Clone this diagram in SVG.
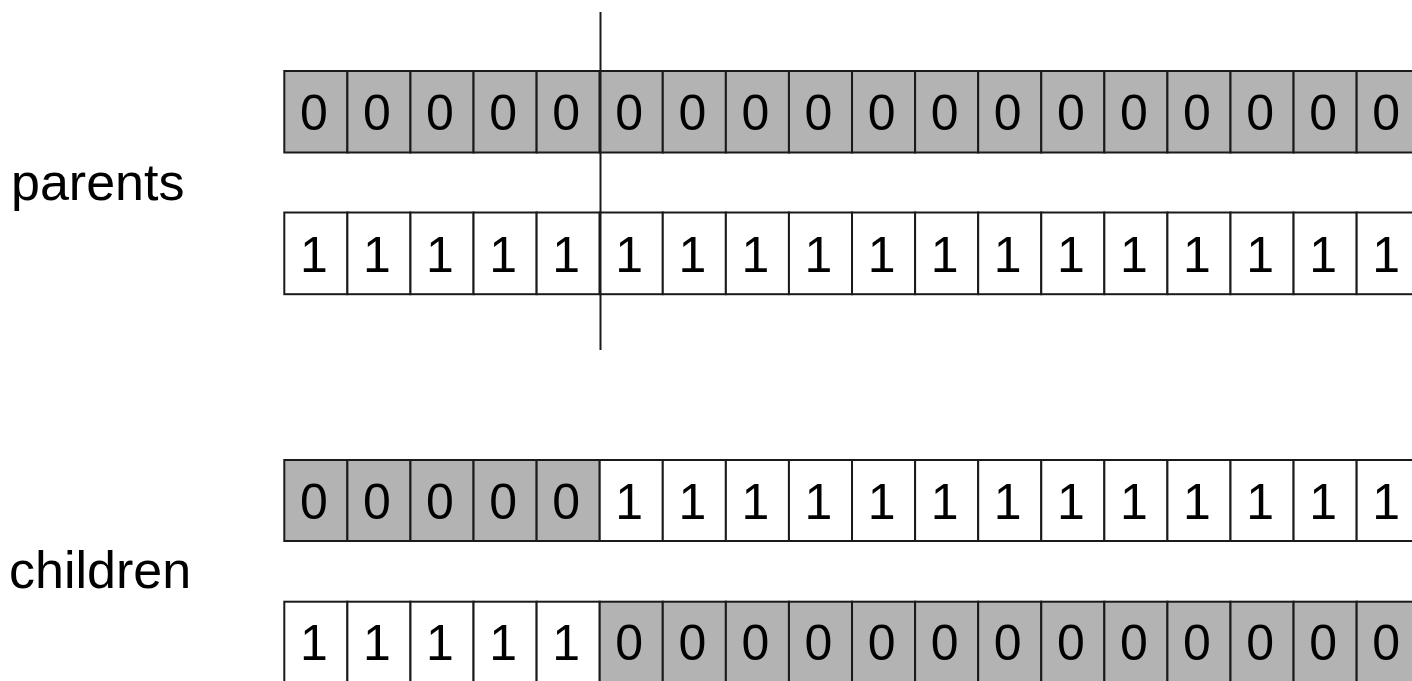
<svg xmlns="http://www.w3.org/2000/svg" width="1412" height="681" viewBox="0 0 1412 681">
<style>
.g{fill:#b3b3b3;stroke:#1a1a1a;stroke-width:2}
.w{fill:#ffffff;stroke:#1a1a1a;stroke-width:2}
.d{font-family:"Liberation Sans",Arial,sans-serif;font-size:50px;fill:#000;text-anchor:middle}
.lbl{font-family:"Liberation Sans",Arial,sans-serif;font-size:52px;fill:#000}
</style>
<rect width="1412" height="681" fill="#fff"/>
<g id="label-parents"><text class="lbl" x="11" y="200">parents</text></g>
<g id="label-children"><text class="lbl" x="9" y="588">children</text></g>
<g id="parent1" transform="translate(0,71)">
<rect class="g" x="284.3" y="0" width="63.08" height="81.5"/><rect class="g" x="347.38" y="0" width="63.08" height="81.5"/><rect class="g" x="410.46" y="0" width="63.08" height="81.5"/><rect class="g" x="473.54" y="0" width="63.08" height="81.5"/><rect class="g" x="536.62" y="0" width="63.08" height="81.5"/><rect class="g" x="599.7" y="0" width="63.08" height="81.5"/><rect class="g" x="662.78" y="0" width="63.08" height="81.5"/><rect class="g" x="725.86" y="0" width="63.08" height="81.5"/><rect class="g" x="788.94" y="0" width="63.08" height="81.5"/><rect class="g" x="852.02" y="0" width="63.08" height="81.5"/><rect class="g" x="915.1" y="0" width="63.08" height="81.5"/><rect class="g" x="978.18" y="0" width="63.08" height="81.5"/><rect class="g" x="1041.26" y="0" width="63.08" height="81.5"/><rect class="g" x="1104.34" y="0" width="63.08" height="81.5"/><rect class="g" x="1167.42" y="0" width="63.08" height="81.5"/><rect class="g" x="1230.5" y="0" width="63.08" height="81.5"/><rect class="g" x="1293.58" y="0" width="63.08" height="81.5"/><rect class="g" x="1356.66" y="0" width="63.08" height="81.5"/>
<text class="d" x="313.84" y="58.5">0</text><text class="d" x="376.92" y="58.5">0</text><text class="d" x="440" y="58.5">0</text><text class="d" x="503.08" y="58.5">0</text><text class="d" x="566.16" y="58.5">0</text><text class="d" x="629.24" y="58.5">0</text><text class="d" x="692.32" y="58.5">0</text><text class="d" x="755.4" y="58.5">0</text><text class="d" x="818.48" y="58.5">0</text><text class="d" x="881.56" y="58.5">0</text><text class="d" x="944.64" y="58.5">0</text><text class="d" x="1007.72" y="58.5">0</text><text class="d" x="1070.8" y="58.5">0</text><text class="d" x="1133.88" y="58.5">0</text><text class="d" x="1196.96" y="58.5">0</text><text class="d" x="1260.04" y="58.5">0</text><text class="d" x="1323.12" y="58.5">0</text><text class="d" x="1386.2" y="58.5">0</text>
</g>
<g id="parent2" transform="translate(0,212.5)">
<rect class="w" x="284.3" y="0" width="63.08" height="81.7"/><rect class="w" x="347.38" y="0" width="63.08" height="81.7"/><rect class="w" x="410.46" y="0" width="63.08" height="81.7"/><rect class="w" x="473.54" y="0" width="63.08" height="81.7"/><rect class="w" x="536.62" y="0" width="63.08" height="81.7"/><rect class="w" x="599.7" y="0" width="63.08" height="81.7"/><rect class="w" x="662.78" y="0" width="63.08" height="81.7"/><rect class="w" x="725.86" y="0" width="63.08" height="81.7"/><rect class="w" x="788.94" y="0" width="63.08" height="81.7"/><rect class="w" x="852.02" y="0" width="63.08" height="81.7"/><rect class="w" x="915.1" y="0" width="63.08" height="81.7"/><rect class="w" x="978.18" y="0" width="63.08" height="81.7"/><rect class="w" x="1041.26" y="0" width="63.08" height="81.7"/><rect class="w" x="1104.34" y="0" width="63.08" height="81.7"/><rect class="w" x="1167.42" y="0" width="63.08" height="81.7"/><rect class="w" x="1230.5" y="0" width="63.08" height="81.7"/><rect class="w" x="1293.58" y="0" width="63.08" height="81.7"/><rect class="w" x="1356.66" y="0" width="63.08" height="81.7"/>
<text class="d" x="313.84" y="59">1</text><text class="d" x="376.92" y="59">1</text><text class="d" x="440" y="59">1</text><text class="d" x="503.08" y="59">1</text><text class="d" x="566.16" y="59">1</text><text class="d" x="629.24" y="59">1</text><text class="d" x="692.32" y="59">1</text><text class="d" x="755.4" y="59">1</text><text class="d" x="818.48" y="59">1</text><text class="d" x="881.56" y="59">1</text><text class="d" x="944.64" y="59">1</text><text class="d" x="1007.72" y="59">1</text><text class="d" x="1070.8" y="59">1</text><text class="d" x="1133.88" y="59">1</text><text class="d" x="1196.96" y="59">1</text><text class="d" x="1260.04" y="59">1</text><text class="d" x="1323.12" y="59">1</text><text class="d" x="1386.2" y="59">1</text>
</g>
<g id="child1" transform="translate(0,460)">
<rect class="g" x="284.3" y="0" width="63.08" height="81"/><rect class="g" x="347.38" y="0" width="63.08" height="81"/><rect class="g" x="410.46" y="0" width="63.08" height="81"/><rect class="g" x="473.54" y="0" width="63.08" height="81"/><rect class="g" x="536.62" y="0" width="63.08" height="81"/><rect class="w" x="599.7" y="0" width="63.08" height="81"/><rect class="w" x="662.78" y="0" width="63.08" height="81"/><rect class="w" x="725.86" y="0" width="63.08" height="81"/><rect class="w" x="788.94" y="0" width="63.08" height="81"/><rect class="w" x="852.02" y="0" width="63.08" height="81"/><rect class="w" x="915.1" y="0" width="63.08" height="81"/><rect class="w" x="978.18" y="0" width="63.08" height="81"/><rect class="w" x="1041.26" y="0" width="63.08" height="81"/><rect class="w" x="1104.34" y="0" width="63.08" height="81"/><rect class="w" x="1167.42" y="0" width="63.08" height="81"/><rect class="w" x="1230.5" y="0" width="63.08" height="81"/><rect class="w" x="1293.58" y="0" width="63.08" height="81"/><rect class="w" x="1356.66" y="0" width="63.08" height="81"/>
<text class="d" x="313.84" y="58.5">0</text><text class="d" x="376.92" y="58.5">0</text><text class="d" x="440" y="58.5">0</text><text class="d" x="503.08" y="58.5">0</text><text class="d" x="566.16" y="58.5">0</text><text class="d" x="629.24" y="58.5">1</text><text class="d" x="692.32" y="58.5">1</text><text class="d" x="755.4" y="58.5">1</text><text class="d" x="818.48" y="58.5">1</text><text class="d" x="881.56" y="58.5">1</text><text class="d" x="944.64" y="58.5">1</text><text class="d" x="1007.72" y="58.5">1</text><text class="d" x="1070.8" y="58.5">1</text><text class="d" x="1133.88" y="58.5">1</text><text class="d" x="1196.96" y="58.5">1</text><text class="d" x="1260.04" y="58.5">1</text><text class="d" x="1323.12" y="58.5">1</text><text class="d" x="1386.2" y="58.5">1</text>
</g>
<g id="child2" transform="translate(0,601.7)">
<rect class="w" x="284.3" y="0" width="63.08" height="81.5"/><rect class="w" x="347.38" y="0" width="63.08" height="81.5"/><rect class="w" x="410.46" y="0" width="63.08" height="81.5"/><rect class="w" x="473.54" y="0" width="63.08" height="81.5"/><rect class="w" x="536.62" y="0" width="63.08" height="81.5"/><rect class="g" x="599.7" y="0" width="63.08" height="81.5"/><rect class="g" x="662.78" y="0" width="63.08" height="81.5"/><rect class="g" x="725.86" y="0" width="63.08" height="81.5"/><rect class="g" x="788.94" y="0" width="63.08" height="81.5"/><rect class="g" x="852.02" y="0" width="63.08" height="81.5"/><rect class="g" x="915.1" y="0" width="63.08" height="81.5"/><rect class="g" x="978.18" y="0" width="63.08" height="81.5"/><rect class="g" x="1041.26" y="0" width="63.08" height="81.5"/><rect class="g" x="1104.34" y="0" width="63.08" height="81.5"/><rect class="g" x="1167.42" y="0" width="63.08" height="81.5"/><rect class="g" x="1230.5" y="0" width="63.08" height="81.5"/><rect class="g" x="1293.58" y="0" width="63.08" height="81.5"/><rect class="g" x="1356.66" y="0" width="63.08" height="81.5"/>
<text class="d" x="313.84" y="58.5">1</text><text class="d" x="376.92" y="58.5">1</text><text class="d" x="440" y="58.5">1</text><text class="d" x="503.08" y="58.5">1</text><text class="d" x="566.16" y="58.5">1</text><text class="d" x="629.24" y="58.5">0</text><text class="d" x="692.32" y="58.5">0</text><text class="d" x="755.4" y="58.5">0</text><text class="d" x="818.48" y="58.5">0</text><text class="d" x="881.56" y="58.5">0</text><text class="d" x="944.64" y="58.5">0</text><text class="d" x="1007.72" y="58.5">0</text><text class="d" x="1070.8" y="58.5">0</text><text class="d" x="1133.88" y="58.5">0</text><text class="d" x="1196.96" y="58.5">0</text><text class="d" x="1260.04" y="58.5">0</text><text class="d" x="1323.12" y="58.5">0</text><text class="d" x="1386.2" y="58.5">0</text>
</g>
<g id="connectors">
<line x1="600.5" y1="12" x2="600.5" y2="350" stroke="#1a1a1a" stroke-width="2"/>
</g>
</svg>
